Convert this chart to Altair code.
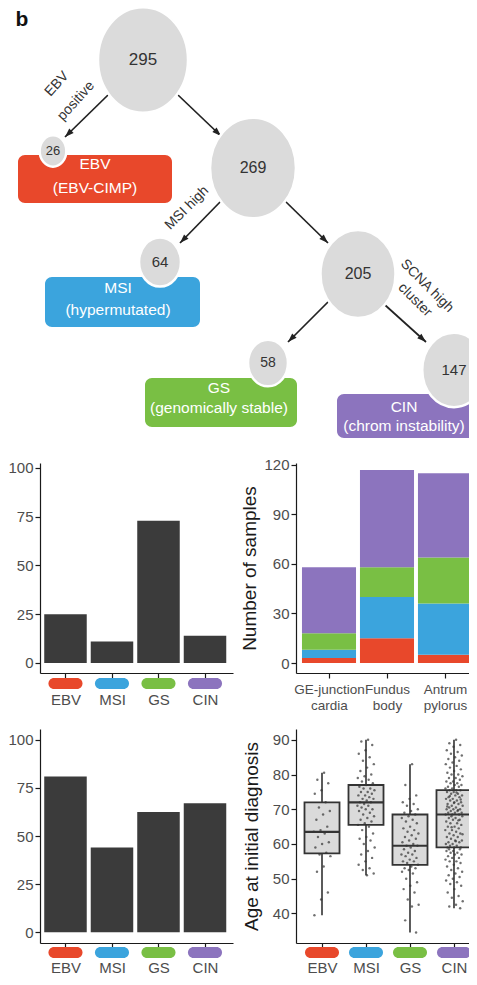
import json
import altair as alt
import pandas as pd

FONT = "Liberation Sans"

# ---------------- values ----------------
SUBTYPES = ["EBV", "MSI", "GS", "CIN"]
SUBTYPE_COLORS = ["#E8482B", "#3BA4DD", "#79BF44", "#8C74BE"]
SUBTYPE_SUBTITLES = ["(EBV-CIMP)", "(hypermutated)", "(genomically stable)", "(chrom instability)"]

NODE_COUNTS = [295, 26, 269, 64, 205, 58, 147]
EDGE_TEXT = ["EBV", "positive", "MSI high", "SCNA high", "cluster"]
PANEL_LABEL = ["b"]

BAR_TOP = [25, 11, 73, 14]          # upper left bar panel
BAR_BOTTOM = [81, 44, 62.5, 67]     # lower left bar panel

SITES = ["GE-junction cardia", "Fundus body", "Antrum pylorus"]
SITE_EBV = [3, 15, 5]
SITE_MSI = [5, 25, 31]
SITE_GS = [10, 18, 28]
SITE_CIN = [40, 59, 51]

BOX_LO = [39.5, 51, 34.5, 41.5]
BOX_Q1 = [57.3, 65.5, 54, 59]
BOX_MED = [63.5, 72, 59.5, 68.5]
BOX_Q3 = [72, 77, 68.5, 75.5]
BOX_HI = [80.5, 90, 83, 90]

AGE_EBV = [80.5, 78.5, 77.5, 75.5, 74.5, 72, 70.5, 69.5, 68.5, 67, 65, 64, 63.5, 63,
           62, 60.5, 60, 59, 57.5, 57, 56.5, 53.5, 52, 46, 44, 39.5]
AGE_MSI = [90, 89.5, 88.5, 87, 86, 85, 84, 83, 82, 81, 80, 79.5, 79, 78.5, 78, 77.5, 77,
           76.5, 76, 76, 75.5, 75, 75, 74.5, 74, 74, 73.5, 73, 73, 72.5, 72, 72, 71.5, 71,
           71, 70.5, 70, 70, 69.5, 69, 68.5, 68, 67.5, 67, 66.5, 66, 65.5, 65, 64, 63, 62,
           61.5, 61, 60, 59, 58, 57, 56, 55, 54, 53, 52.5, 51.5, 51]
AGE_GS = [83, 77, 74, 73, 72, 71.5, 71, 70, 69.5, 69, 68.5, 68, 67.5, 67, 66.5, 66, 65,
          64.5, 64, 63.5, 63, 62.5, 62, 61.5, 61, 60.5, 60, 59.5, 59.5, 59, 58.5, 58, 57.5,
          57, 57, 56.5, 56, 55.5, 55, 55, 54.5, 54, 53.5, 53, 53, 52.5, 52, 51.5, 50, 49,
          48, 47, 46, 44, 42.5, 42, 38, 34.5]
AGE_CIN = [90, 89, 88.5, 88, 87, 86.5, 86, 85.5, 85, 84.5, 84, 83.5, 83, 82.5, 82, 81.5,
           81, 80.5, 80, 80, 79.5, 79, 79, 78.5, 78, 78, 77.5, 77.5, 77, 77, 76.5, 76.5,
           76, 76, 75.5, 75.5, 75.5,
           75, 75, 74.5, 74.5, 74, 74, 73.5, 73.5, 73, 73, 72.5, 72.5, 72, 72, 71.5, 71.5,
           71, 71, 70.5, 70.5, 70, 70, 70, 69.5, 69.5, 69, 69, 69, 68.5, 68.5, 68.5, 74.8,
           73.8, 72.8, 71.8, 70.8, 69.8,
           68, 68, 67.5, 67.5, 67, 67, 66.5, 66, 66, 65.5, 65, 65, 64.5, 64, 64, 63.5, 63,
           63, 62.5, 62, 62, 61.5, 61, 61, 60.5, 60.5, 60, 60, 59.5, 59.5, 59, 59, 59, 66.8,
           64.8, 62.8, 60.8,
           58.5, 58.5, 58, 58, 57.5, 57.5, 57, 57, 56.5, 56, 56, 55.5, 55, 55, 54.5, 54,
           53.5, 53, 52.5, 52, 51.5, 51, 50.5, 50, 49.5, 49, 48.5, 48, 47, 46, 45, 44.5,
           43.5, 42.5, 42, 41.5]

# ---------------- diagram layout (page pixel coordinates) ----------------
NODE_X = [143, 53, 253, 160, 358, 268, 454]
NODE_Y = [60, 151, 168, 262, 274, 363, 370]
NODE_FONT = [17, 13, 16, 15, 16, 14, 15]

ARROW_X1 = [108, 178, 222, 284, 330, 385]
ARROW_Y1 = [95, 95, 200, 200, 300, 305]
ARROW_X2 = [65, 221, 180, 328, 288, 426]
ARROW_Y2 = [137, 136, 243, 243, 342, 342]

EDGE_X = [57, 76, 187, 427, 415]
EDGE_Y = [84, 101, 208, 286, 300]
EDGE_ANGLE = [312, 312, 315, 45, 45]

BOX_X1 = [18, 45, 145, 337]
BOX_X2 = [172, 200, 297, 490]
BOX_Y1 = [155, 277, 378, 394]
BOX_Y2 = [203, 327, 427, 438]
BOX_TX = [95, 118, 219, 404]
BOX_TY1 = [164, 288, 388, 407]
BOX_TY2 = [188, 310, 408, 426]

PANEL_X = [22]
PANEL_Y = [20]

# ---------------- canvas geometry (svg pixels; page = svg + 8) ----------------
VIEW_W, VIEW_H = 461, 969
LEFT_AXIS_X, RIGHT_AXIS_X = 32, 288
RIGHT_END = 469
ROW1_TOP, ROW1_BOT = 455, 665
ROW2_TOP, ROW2_BOT = 721, 935

color_scale = alt.Scale(domain=SUBTYPES, range=SUBTYPE_COLORS)
SUB_JS = json.dumps(SUBTYPES)
SITE_JS = json.dumps(SITES)

# ---------------- tree diagram ----------------
sx = alt.Scale(domain=[8, 477], range=[0, 469], nice=False, zero=False)
sy = alt.Scale(domain=[8, 445], range=[0, 437], nice=False, zero=False)
X = alt.X("x:Q", scale=sx, axis=None)
Y = alt.Y("y:Q", scale=sy, axis=None)

node_df = pd.DataFrame({"count": NODE_COUNTS, "x": NODE_X, "y": NODE_Y, "fs": NODE_FONT})
arrow_df = pd.DataFrame({"x": ARROW_X1, "y": ARROW_Y1, "x2": ARROW_X2, "y2": ARROW_Y2})
edge_df = pd.DataFrame({"text": EDGE_TEXT, "x": EDGE_X, "y": EDGE_Y, "ang": EDGE_ANGLE})
box_df = pd.DataFrame({"subtype": SUBTYPES, "x": BOX_X1, "x2": BOX_X2, "y": BOX_Y1, "y2": BOX_Y2})
boxtext_df = pd.DataFrame({
    "text": SUBTYPES + SUBTYPE_SUBTITLES,
    "x": BOX_TX + BOX_TX,
    "y": BOX_TY1 + BOX_TY2,
})
panel_df = pd.DataFrame({"text": PANEL_LABEL, "x": PANEL_X, "y": PANEL_Y})

ELLIPSE = ("M0,-1.17C0.552,-1.17,1,-0.646,1,0C1,0.646,0.552,1.17,0,1.17"
           "C-0.552,1.17,-1,0.646,-1,0C-1,-0.646,-0.552,-1.17,0,-1.17Z")
ARROWHEAD = "M0,0L-0.62,1.8L0.62,1.8Z"

t_boxes = alt.Chart(box_df).mark_rect(cornerRadius=7, clip=True).encode(
    x=X, x2="x2:Q", y=Y, y2="y2:Q",
    color=alt.Color("subtype:N", scale=color_scale, legend=None),
)
t_boxtext = alt.Chart(boxtext_df).mark_text(
    font=FONT, fontSize=15.5, color="white", clip=True
).encode(x=X, y=Y, text="text:N")
t_arrows = alt.Chart(arrow_df).mark_rule(color="#222", strokeWidth=1.7, clip=True).encode(
    x=X, y=Y, x2="x2:Q", y2="y2:Q"
)
t_heads = alt.Chart(arrow_df).transform_calculate(
    ang="(atan2(datum.x2 - datum.x, datum.y - datum.y2) * 180 / PI + 360) % 360"
).mark_point(shape=ARROWHEAD, filled=True, color="#222", opacity=1, size=100, clip=True).encode(
    x=alt.X("x2:Q", scale=sx, axis=None),
    y=alt.Y("y2:Q", scale=sy, axis=None),
    angle=alt.Angle("ang:Q", scale=None),
)
t_nodes = alt.Chart(node_df).mark_point(
    shape=ELLIPSE, filled=True, fill="#DBDBDB", stroke="white", strokeWidth=2.5,
    opacity=1, strokeOpacity=1, clip=True,
).encode(
    x=X, y=Y,
    size=alt.Size("count:Q", scale=alt.Scale(domain=[0, 295], range=[0, 8100]), legend=None),
)
t_nodetext = alt.Chart(node_df).mark_text(font=FONT, color="#333", clip=True).encode(
    x=X, y=Y, text="count:Q", size=alt.Size("fs:Q", scale=None, legend=None)
)
t_edgetext = alt.Chart(edge_df).mark_text(font=FONT, fontSize=14, color="#333", clip=True).encode(
    x=X, y=Y, text="text:N", angle=alt.Angle("ang:Q", scale=None)
)
t_panel = alt.Chart(panel_df).mark_text(
    font=FONT, fontSize=21, fontWeight="bold", color="#111", clip=True
).encode(x=X, y=Y, text="text:N")

tree = alt.layer(
    t_boxes, t_boxtext, t_arrows, t_heads, t_nodes, t_nodetext, t_edgetext, t_panel
).resolve_scale(size="independent")


def pill_layer(df, xs, xaxis, top, half):
    return alt.Chart(df).transform_calculate(
        i=f"indexof({SUB_JS}, datum.subtype)"
    ).transform_calculate(
        xa=f"datum.i - {half}", xb=f"datum.i + {half}"
    ).mark_rect(cornerRadius=5.5, clip=True).encode(
        x=alt.X("xa:Q", scale=xs, axis=xaxis), x2="xb:Q",
        y=alt.value(top), y2=alt.value(top + 11),
        color=alt.Color("subtype:N", scale=color_scale, legend=None),
    )


# ---------------- left bar panels ----------------
def subtype_bars(values, top, bot, ydom, label_pad, pill_top):
    df = pd.DataFrame({"subtype": SUBTYPES, "value": values})
    xs = alt.Scale(domain=[-0.548, 3.602], range=[LEFT_AXIS_X, LEFT_AXIS_X + 193],
                   nice=False, zero=False)
    xaxis = alt.Axis(orient="bottom", offset=bot - VIEW_H, values=[0, 1, 2, 3],
                     labelExpr=f"{SUB_JS}[datum.value]", title=None,
                     labelPadding=label_pad, labelFlush=False, labelOverlap=False)
    ys = alt.Scale(domain=ydom, range=[bot, top], nice=False, zero=False)
    yaxis = alt.Axis(orient="left", offset=-LEFT_AXIS_X, values=[0, 25, 50, 75, 100],
                     title=None, labelFlush=False)
    bars = alt.Chart(df).transform_calculate(
        i=f"indexof({SUB_JS}, datum.subtype)"
    ).transform_calculate(
        xa="datum.i - 0.457", xb="datum.i + 0.457"
    ).mark_rect(color="#3B3B3B").encode(
        x=alt.X("xa:Q", scale=xs, axis=xaxis), x2="xb:Q",
        y=alt.Y("value:Q", scale=ys, axis=yaxis), y2=alt.datum(0),
    )
    return alt.layer(bars, pill_layer(df, xs, xaxis, pill_top, 0.366))


grp_a = subtype_bars(BAR_TOP, ROW1_TOP, ROW1_BOT, [-5.13, 102.56], 14, ROW1_BOT + 5)
grp_c = subtype_bars(BAR_BOTTOM, ROW2_TOP, ROW2_BOT, [-5.64, 105.64], 12, ROW2_BOT + 4)

# ---------------- stacked site panel ----------------
site_rows = []
for k, (s, vals) in enumerate(zip(SUBTYPES, [SITE_EBV, SITE_MSI, SITE_GS, SITE_CIN])):
    for site, v in zip(SITES, vals):
        site_rows.append({"site": site, "subtype": s, "n": v, "ord": k})
site_df = pd.DataFrame(site_rows)

xs_b = alt.Scale(domain=[-0.569, 2.552], range=[RIGHT_AXIS_X, RIGHT_END], nice=False, zero=False)
grp_b = alt.Chart(site_df).transform_stack(
    stack="n", groupby=["site"], as_=["y0", "y1"], sort=[alt.SortField("ord", order="ascending")]
).transform_calculate(
    i=f"indexof({SITE_JS}, datum.site)"
).transform_calculate(
    xa="datum.i - 0.466", xb="datum.i + 0.466"
).mark_rect(clip=True).encode(
    x=alt.X("xa:Q", scale=xs_b,
            axis=alt.Axis(orient="bottom", offset=ROW1_BOT - VIEW_H, values=[0, 1, 2],
                          labelExpr=f"split({SITE_JS}[datum.value], ' ')", title=None,
                          labelPadding=4, labelFontSize=13.5, labelLineHeight=16,
                          labelFlush=False, labelOverlap=False)),
    x2="xb:Q",
    y=alt.Y("y0:Q", scale=alt.Scale(domain=[-6.06, 121.21], range=[ROW1_BOT, ROW1_TOP],
                                    nice=False, zero=False),
            axis=alt.Axis(orient="left", offset=-RIGHT_AXIS_X, values=[0, 30, 60, 90, 120],
                          title="Number of samples", titlePadding=4.5, labelFlush=False)),
    y2="y1:Q",
    color=alt.Color("subtype:N", scale=color_scale, legend=None),
)

# ---------------- age box plot panel ----------------
stat_df = pd.DataFrame({"subtype": SUBTYPES, "lo": BOX_LO, "q1": BOX_Q1, "med": BOX_MED,
                        "q3": BOX_Q3, "hi": BOX_HI})
age_df = pd.DataFrame({
    "subtype": ["EBV"] * len(AGE_EBV) + ["MSI"] * len(AGE_MSI) + ["GS"] * len(AGE_GS) + ["CIN"] * len(AGE_CIN),
    "age": AGE_EBV + AGE_MSI + AGE_GS + AGE_CIN,
})

xs_d = alt.Scale(domain=[-0.591, 3.523], range=[RIGHT_AXIS_X, RIGHT_END], nice=False, zero=False)
xax_d = alt.Axis(orient="bottom", offset=ROW2_BOT - VIEW_H, values=[0, 1, 2, 3],
                 labelExpr=f"{SUB_JS}[datum.value]", title=None, labelPadding=12,
                 labelFlush=False, labelOverlap=False)
ys_d = alt.Scale(domain=[31.48, 93.125], range=[ROW2_BOT, ROW2_TOP], nice=False, zero=False)
yax_d = alt.Axis(orient="left", offset=-RIGHT_AXIS_X, values=[40, 50, 60, 70, 80, 90],
                 title="Age at initial diagnosis", titlePadding=11, labelFlush=False)

stat_base = alt.Chart(stat_df).transform_calculate(
    i=f"indexof({SUB_JS}, datum.subtype)"
).transform_calculate(
    xa="datum.i - 0.398", xb="datum.i + 0.398"
)
whisk = stat_base.mark_rule(color="#333", strokeWidth=1.6, clip=True).encode(
    x=alt.X("i:Q", scale=xs_d, axis=xax_d),
    y=alt.Y("lo:Q", scale=ys_d, axis=yax_d), y2="hi:Q",
)
boxes = stat_base.mark_rect(fill="#DADADA", stroke="#333", strokeWidth=1.8, clip=True).encode(
    x=alt.X("xa:Q", scale=xs_d, axis=xax_d), x2="xb:Q",
    y=alt.Y("q1:Q", scale=ys_d, axis=yax_d), y2="q3:Q",
)
medians = stat_base.mark_rule(color="#333", strokeWidth=2.2, clip=True).encode(
    x=alt.X("xa:Q", scale=xs_d, axis=xax_d), x2="xb:Q",
    y=alt.Y("med:Q", scale=ys_d, axis=yax_d),
)
points = alt.Chart(age_df).transform_window(
    idx="row_number()", groupby=["subtype"]
).transform_calculate(
    i=f"indexof({SUB_JS}, datum.subtype)"
).transform_calculate(
    px="datum.i + (((datum.idx * 0.618034) % 1) * 2 - 1) * 0.2"
).mark_circle(size=6, color="#333", opacity=0.7, clip=True).encode(
    x=alt.X("px:Q", scale=xs_d, axis=xax_d),
    y=alt.Y("age:Q", scale=ys_d, axis=yax_d),
)
grp_d = alt.layer(whisk, boxes, medians, points,
                  pill_layer(stat_df, xs_d, xax_d, ROW2_BOT + 4, 0.386))

chart = alt.layer(tree, grp_a, grp_b, grp_c, grp_d).resolve_scale(
    x="independent", y="independent"
).resolve_axis(
    x="independent", y="independent"
).properties(
    width=VIEW_W, height=VIEW_H, padding=0,
    autosize=alt.AutoSizeParams(type="none"),
).configure_view(stroke=None).configure_axis(
    labelFont=FONT, titleFont=FONT, labelFontSize=15, titleFontSize=19,
    labelColor="#4d4d4d", titleColor="#1a1a1a", titleFontWeight="normal",
    domainColor="#1a1a1a", tickColor="#1a1a1a", domainWidth=1.2, tickWidth=1.2,
    tickSize=5, grid=False, labelPadding=2,
)

chart.save("out.html", embed_options={"renderer": "svg", "actions": False})
